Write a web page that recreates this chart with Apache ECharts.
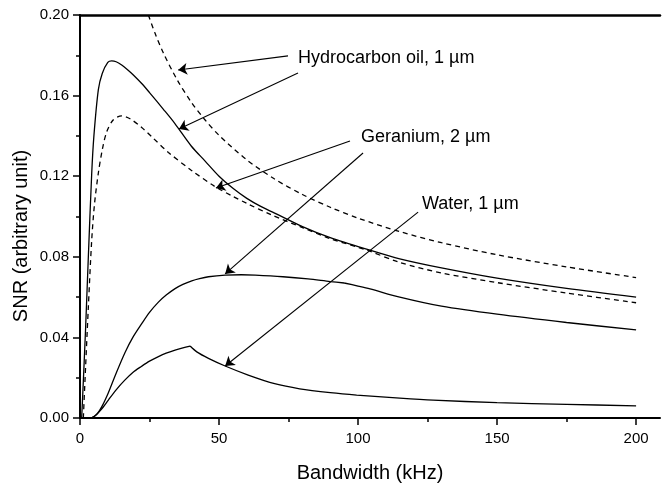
<!DOCTYPE html>
<html>
<head>
<meta charset="utf-8">
<script src="https://cdn.jsdelivr.net/npm/echarts@6/dist/echarts.min.js"></script>
<style>html,body{margin:0;padding:0;background:#fff;}#c{width:662px;height:484px;}</style>
</head>
<body>
<div id="c"></div>
<script>
// ---- data (Bandwidth kHz, SNR) ----
const xTicks = [0, 50, 100, 150, 200];
const xMinorTicks = [25, 75, 125, 175];
const hydroSolid = [[0.6,0],[1,0.012],[2,0.044],[3,0.080],[4.2,0.121],[5,0.140],[6.6,0.163],[8,0.171],[10,0.1765],[11.4,0.1772],[13,0.1768],[15,0.1752],[17,0.1730],[19,0.1705],[22.2,0.1660],[25,0.1615],[30,0.1532],[34.2,0.1460],[40,0.1350],[45,0.1275],[50,0.1200],[55,0.1140],[60,0.1090],[65,0.1050],[70,0.1017],[80,0.0950],[90,0.0895],[104,0.0834],[115,0.0790],[130,0.0745],[150,0.0694],[175,0.0643],[200,0.0600]];
const hydroDashedUpper = [[24.6,0.2000],[27,0.1909],[30,0.1811],[35,0.1677],[40,0.1568],[45,0.1479],[50,0.1403],[60,0.1281],[70,0.1186],[80,0.1109],[90,0.1046],[100,0.0992],[115,0.0925],[130,0.0870],[150,0.0810],[175,0.0750],[200,0.0697]];
const geraniumDashed = [[1.2,0],[2,0.025],[3,0.055],[4.2,0.088],[5.2,0.106],[6.6,0.1216],[8,0.133],[9.6,0.142],[12,0.1480],[15,0.1499],[18,0.1485],[22.2,0.1442],[26,0.1393],[31.8,0.1318],[40,0.1230],[48.6,0.1148],[55,0.1100],[60,0.1065],[69,0.1007],[80,0.0945],[90,0.0890],[103,0.0834],[115,0.0772],[130,0.0720],[150,0.0672],[175,0.0620],[200,0.0572]];
const geraniumSolidRise = [[4,0],[5,0.0007],[6,0.0019],[7,0.0037],[8,0.0060],[9,0.0088],[10.2,0.0125],[13,0.0222],[16.2,0.0325],[19,0.0400],[22.2,0.0468],[25,0.0524],[28.2,0.0575],[31,0.0610],[34.2,0.0642],[37,0.0663],[40.2,0.0681],[43,0.0692],[46.2,0.0701],[52.2,0.0709],[58,0.0711],[63,0.0709],[73,0.0701],[82,0.0690],[90,0.0677],[95,0.0670]];
const geraniumSolidFall = [[95,0.0670],[100,0.0655],[104.3,0.0641],[115,0.0600],[130,0.0555],[150,0.0515],[175,0.0474],[200,0.0437]];
const waterSolidRise = [[4,0],[5,0.0006],[6,0.0017],[7.2,0.0035],[8.5,0.0057],[10.2,0.0089],[13,0.0140],[16.2,0.0189],[19,0.0226],[22.2,0.0257],[25,0.0282],[28.2,0.0305],[31,0.0322],[34.2,0.0337],[37,0.0348],[39.6,0.0357]];
const waterSolidFall = [[39.6,0.0357],[42,0.0328],[46.2,0.0296],[52.2,0.0258],[60.5,0.0213],[70,0.0170],[79,0.0145],[90,0.0126],[99.5,0.0114],[115,0.0099],[127,0.0089],[150,0.0076],[175,0.0068],[200,0.0060]];
// annotation arrows: [start, end] in data units
const arrows = [
  [[74.8,0.1797],[35.3,0.1727]],
  [[78.4,0.1712],[35.6,0.1434]],
  [[97.1,0.1375],[48.9,0.1141]],
  [[101.8,0.1315],[52.2,0.0715]],
  [[121.6,0.1022],[52.2,0.0258]]
];
const labels = ['Hydrocarbon oil, 1 µm', 'Geranium, 2 µm', 'Water, 1 µm'];
const axisNames = ['Bandwidth (kHz)', 'SNR (arbitrary unit)'];

const FONT = '"Liberation Sans", Arial, sans-serif';
const chart = echarts.init(document.getElementById('c'), null, {renderer: 'canvas'});
function line(data, dashed) {
  return {
    type: 'line', data: data, xAxisIndex: 0, yAxisIndex: 0,
    showSymbol: false, symbol: 'none', smooth: 0.3, silent: true,
    lineStyle: {color: '#000', width: 1.3, type: dashed ? [5, 4] : 'solid'},
    z: 3
  };
}
const arrowSeries = {
  type: 'line', data: [], xAxisIndex: 0, yAxisIndex: 0, silent: true,
  markLine: {
    silent: true, animation: false,
    symbol: ['none', 'arrow'], symbolSize: 9,
    label: {show: false},
    lineStyle: {color: '#000', width: 1.1, type: 'solid'},
    emphasis: {disabled: true},
    data: arrows.map(a => [{coord: a[0]}, {coord: a[1]}])
  }
};
chart.setOption({
  animation: false,
  backgroundColor: '#fff',
  grid: {left: 80, top: 15, right: 2, bottom: 66, containLabel: false},
  xAxis: [
    {type: 'value', position: 'bottom', min: 0, max: 208.6,
     axisLine: {show: true, onZero: false, lineStyle: {color: '#000', width: 2}},
     axisTick: {show: true, customValues: xTicks, length: 7, lineStyle: {color: '#000', width: 1.5}},
     axisLabel: {show: true, customValues: xTicks, margin: 13, fontSize: 15, color: '#000', fontFamily: FONT},
     splitLine: {show: false}},
    {type: 'value', position: 'bottom', min: 0, max: 208.6,
     axisLine: {show: false, onZero: false},
     axisTick: {show: true, customValues: xMinorTicks, length: 4, lineStyle: {color: '#000', width: 1.5}},
     axisLabel: {show: false}, splitLine: {show: false}},
    {type: 'value', position: 'top', min: 0, max: 208.6,
     axisLine: {show: true, onZero: false, lineStyle: {color: '#000', width: 2.5}},
     axisTick: {show: false}, axisLabel: {show: false}, splitLine: {show: false}}
  ],
  yAxis: [
    {type: 'value', min: 0, max: 0.2, interval: 0.04,
     axisLine: {show: true, onZero: false, lineStyle: {color: '#000', width: 2}},
     axisTick: {show: true, length: 7, lineStyle: {color: '#000', width: 1.5}},
     minorTick: {show: true, splitNumber: 2, length: 4, lineStyle: {color: '#000', width: 1.5}},
     axisLabel: {margin: 11, fontSize: 15, color: '#000', fontFamily: FONT, formatter: v => v.toFixed(2)},
     splitLine: {show: false}, minorSplitLine: {show: false}}
  ],
  series: [
    line(hydroSolid, false),
    line(hydroDashedUpper, true),
    line(geraniumDashed, true),
    line(geraniumSolidRise, false),
    line(geraniumSolidFall, false),
    line(waterSolidRise, false),
    line(waterSolidFall, false),
    arrowSeries
  ],
  graphic: [
    {type: 'text', left: 298, top: 59 - 10, style: {text: labels[0], fontSize: 18, fontFamily: FONT, fill: '#000'}},
    {type: 'text', left: 361, top: 138 - 10, style: {text: labels[1], fontSize: 18, fontFamily: FONT, fill: '#000'}},
    {type: 'text', left: 422, top: 205 - 10, style: {text: labels[2], fontSize: 18, fontFamily: FONT, fill: '#000'}},
    {type: 'text', x: 370, y: 473, style: {text: axisNames[0], fontSize: 20, fontFamily: FONT, fill: '#000', align: 'center', verticalAlign: 'middle'}},
    {type: 'text', x: 21, y: 236, rotation: Math.PI / 2, style: {text: axisNames[1], fontSize: 20, fontFamily: FONT, fill: '#000', align: 'center', verticalAlign: 'middle'}}
  ]
});
</script>
</body>
</html>
